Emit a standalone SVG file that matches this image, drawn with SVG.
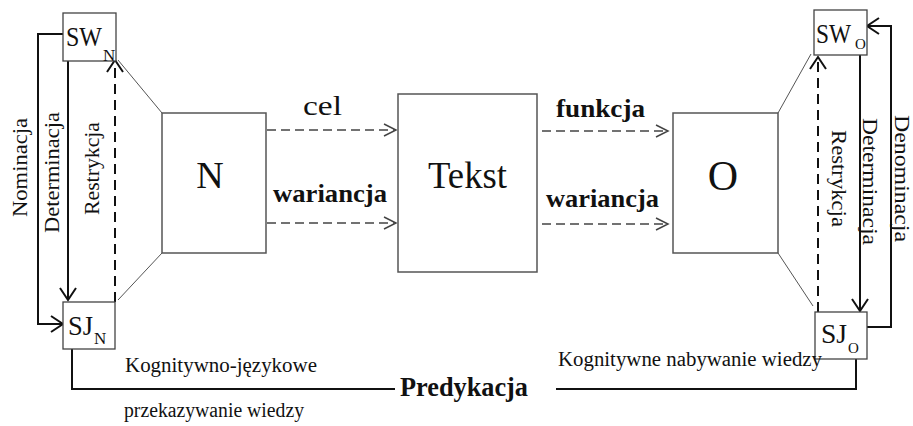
<svg xmlns="http://www.w3.org/2000/svg" width="913" height="426" viewBox="0 0 913 426">
<style>
text{font-family:"Liberation Serif","DejaVu Serif",serif;fill:#111}
.box{fill:#fff;stroke:#555;stroke-width:1.5}
.sbox{fill:#fff;stroke:#444;stroke-width:1.3}
.trap{fill:none;stroke:#555;stroke-width:1}
.solid{fill:none;stroke:#111;stroke-width:2}
.rdash{fill:none;stroke:#111;stroke-width:2;stroke-dasharray:10 6}
.gdash{fill:none;stroke:#444;stroke-width:1.5;stroke-dasharray:9 5}
.big{font-size:38px}
.lab{font-size:25px;font-weight:bold}
.vert{font-size:21px}
.bot{font-size:20px}
</style>
<defs>
<marker id="ab" viewBox="0 0 12 16" refX="12" refY="8" markerWidth="12" markerHeight="16" markerUnits="userSpaceOnUse" orient="auto" overflow="visible">
<path d="M0,0 L12,8 L0,16" fill="none" stroke="#111" stroke-width="2"/>
</marker>
<marker id="ag" viewBox="0 0 12 12" refX="12" refY="6" markerWidth="12" markerHeight="12" markerUnits="userSpaceOnUse" orient="auto" overflow="visible">
<path d="M0,0 L12,6 L0,12" fill="none" stroke="#444" stroke-width="1.5"/>
</marker>
</defs>
<rect width="913" height="426" fill="#fff"/>

<g id="connectors">
<path class="trap" d="M118,60 L162,113 M162,253 L118,300"/>
<path class="trap" d="M811,54 L778,113 M778,253 L813,306"/>
<path class="solid" d="M63,34 H38 V324 H63" marker-end="url(#ab)"/>
<path class="solid" d="M68,61 V300" marker-end="url(#ab)"/>
<path class="rdash" d="M115,302 V60" marker-end="url(#ab)"/>
<path class="solid" d="M860,55 V311" marker-end="url(#ab)"/>
<path class="solid" d="M867,327 H891 V26 H867" marker-end="url(#ab)"/>
<path class="rdash" d="M818,312 V57" marker-end="url(#ab)"/>
<path class="solid" d="M72,349 V389 H395"/>
<path class="solid" d="M556,389 H856 V359"/>
<path class="gdash" d="M267,130 H396" marker-end="url(#ag)"/>
<path class="gdash" d="M267,223 H396" marker-end="url(#ag)"/>
<path class="gdash" d="M542,131 H668" marker-end="url(#ag)"/>
<path class="gdash" d="M542,224 H668" marker-end="url(#ag)"/>
</g>

<g id="SWN">
<rect class="sbox" x="63" y="13" width="53" height="48"/>
<text x="66" y="46" font-size="27" textLength="36" lengthAdjust="spacingAndGlyphs">SW</text>
<text x="103" y="61" font-size="17">N</text>
</g>
<g id="SJN">
<rect class="sbox" x="63" y="302" width="52" height="47"/>
<text x="68" y="335" font-size="28" textLength="25" lengthAdjust="spacingAndGlyphs">SJ</text>
<text x="94" y="344" font-size="17">N</text>
</g>
<g id="SWO">
<rect class="sbox" x="814" y="10" width="53" height="45"/>
<text x="816" y="43" font-size="27" textLength="35" lengthAdjust="spacingAndGlyphs">SW</text>
<text x="855" y="49" font-size="15">O</text>
</g>
<g id="SJO">
<rect class="sbox" x="815" y="312" width="52" height="47"/>
<text x="821" y="343" font-size="28" textLength="26" lengthAdjust="spacingAndGlyphs">SJ</text>
<text x="848" y="353" font-size="15">O</text>
</g>
<g id="N">
<rect class="box" x="162" y="113" width="104" height="140"/>
<text class="big" x="210" y="188" text-anchor="middle">N</text>
</g>
<g id="Tekst">
<rect class="box" x="398" y="94" width="139" height="178"/>
<text x="428" y="188" font-size="38" textLength="79" lengthAdjust="spacingAndGlyphs">Tekst</text>
</g>
<g id="O">
<rect class="box" x="673" y="113" width="105" height="140"/>
<text x="723" y="190" font-size="42" text-anchor="middle">O</text>
</g>

<g id="labels">
<text x="303" y="115" font-size="28" textLength="39" lengthAdjust="spacingAndGlyphs">cel</text>
<text class="lab" x="273" y="202" textLength="114" lengthAdjust="spacingAndGlyphs">wariancja</text>
<text class="lab" x="556" y="117" textLength="89" lengthAdjust="spacingAndGlyphs">funkcja</text>
<text class="lab" x="546" y="207" textLength="113" lengthAdjust="spacingAndGlyphs">wariancja</text>
<text class="vert" transform="translate(27,217) rotate(-90)" textLength="99" lengthAdjust="spacingAndGlyphs">Nominacja</text>
<text class="vert" transform="translate(59,233) rotate(-90)" font-size="22" textLength="121" lengthAdjust="spacingAndGlyphs">Determinacja</text>
<text class="vert" transform="translate(99,215) rotate(-90)" textLength="93" lengthAdjust="spacingAndGlyphs">Restrykcja</text>
<text class="vert" transform="translate(895,115) rotate(90)" font-size="20" textLength="127" lengthAdjust="spacingAndGlyphs">Denominacja</text>
<text class="vert" transform="translate(863,118) rotate(90)" font-size="22" textLength="127" lengthAdjust="spacingAndGlyphs">Determinacja</text>
<text class="vert" transform="translate(832,130) rotate(90)" textLength="97" lengthAdjust="spacingAndGlyphs">Restrykcja</text>
<text class="bot" x="125" y="372" textLength="192" lengthAdjust="spacingAndGlyphs">Kognitywno-językowe</text>
<text class="bot" x="124" y="417" textLength="180" lengthAdjust="spacingAndGlyphs">przekazywanie wiedzy</text>
<text class="bot" x="558" y="366" textLength="264" lengthAdjust="spacingAndGlyphs">Kognitywne nabywanie wiedzy</text>
<text x="400" y="396" font-size="27" font-weight="bold" textLength="128" lengthAdjust="spacingAndGlyphs">Predykacja</text>
</g>
</svg>
